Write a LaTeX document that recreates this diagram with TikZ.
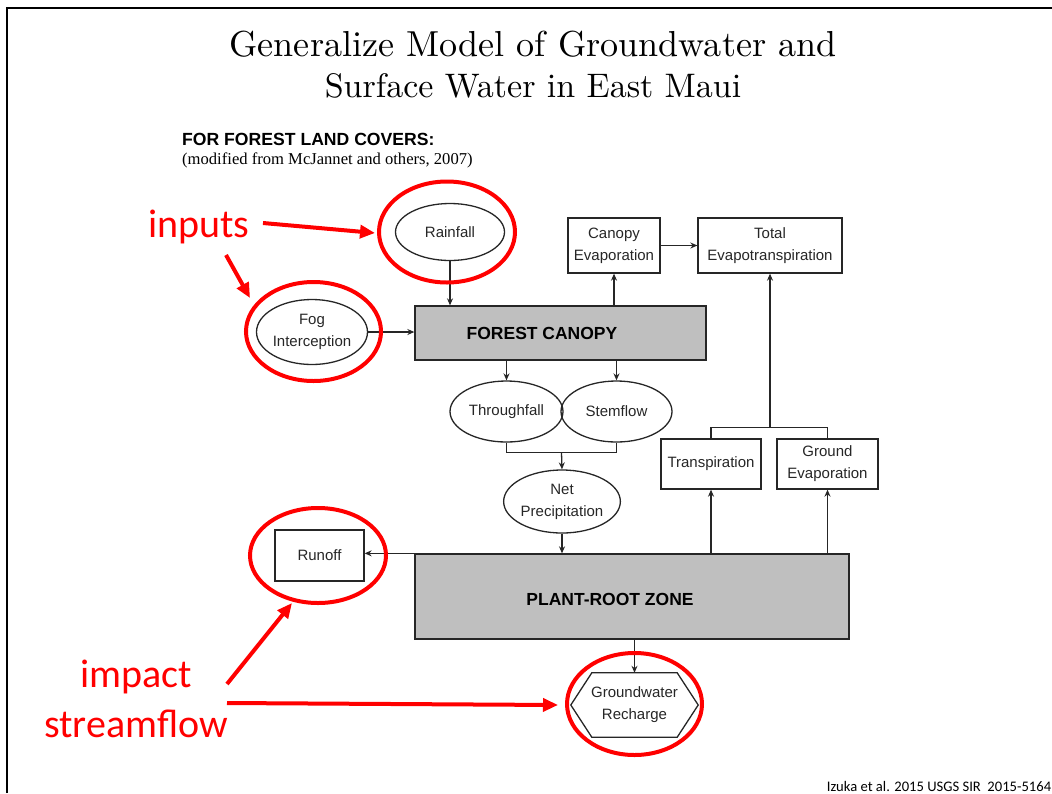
\documentclass[tikz,border=0pt]{standalone}
\usepackage{fontspec}
\setsansfont{Liberation Sans}
\newfontfamily\calfont{Carlito}
\newfontfamily\timesfont{Liberation Serif}
\newfontfamily\titlefont{lmroman10-regular}[Extension=.otf]
\usetikzlibrary{shapes.geometric,arrows.meta,calc}
\newcommand\dfont{\sffamily\fontsize{15}{22}\selectfont}
\tikzset{
  blk/.style={line width=1.3pt, draw=black!85},
  arr/.style={blk, -{Stealth[length=7pt,width=6pt]}},
  ell/.style={draw=black!85, ellipse, line width=1.3pt, inner sep=0pt, align=center, font=\dfont, text=black!85},
  bx/.style={draw=black!85, rectangle, line width=1.3pt, inner sep=0pt, align=center, font=\dfont, text=black!85},
  zone/.style={draw=black!85, rectangle, fill=gray!50, line width=1.3pt, inner sep=0pt},
  ztext/.style={font=\sffamily\bfseries\fontsize{17.5}{20}\selectfont, inner sep=0pt},
  rcirc/.style={draw=red, ellipse, line width=4pt, inner sep=0pt},
  rarr/.style={draw=red, line width=4pt, -{Triangle[length=15pt,width=13pt]}},
  rtext/.style={text=red, font=\calfont\fontsize{40}{48}\selectfont, inner sep=0pt},
  ttl/.style={anchor=base, inner sep=0pt, font=\titlefont\fontsize{34}{41}\selectfont},
}
\begin{document}
\begin{tikzpicture}[x=1pt,y=-1pt]
\useasboundingbox (0,0) rectangle (1052,793);
% slide frame
\draw[line width=2.5pt] (7,793) -- (7,8) -- (1052,8);
% title
\node[ttl] (title1) at (533,56) {\resizebox{607pt}{!}{\vphantom{Gy}Generalize Model of Groundwater and}};
\node[ttl] (title2) at (533,97) {\scalebox{1.0}{Surface Water in East Maui}};
% header
\node[anchor=base west, inner sep=0pt, font=\sffamily\bfseries\fontsize{17.6}{20}\selectfont] (hdr) at (182,145) {FOR FOREST LAND COVERS:};
\node[anchor=base west, inner sep=0pt, font=\timesfont\fontsize{16.6}{18}\selectfont] (sub) at (182,164) {(modified from McJannet and others, 2007)};
% diagram nodes
\node[ell, minimum width=109, minimum height=57] (rain) at (450,232) {Rainfall};
\node[ell, minimum width=111, minimum height=65] (fog) at (312,332) {Fog\\Interception};
\node[zone, minimum width=291, minimum height=54] (canopy) at (560.5,333) {};
\node[ztext] (canopyt) at (542,333) {FOREST CANOPY};
\node[bx, minimum width=92, minimum height=55] (ce) at (614,245.5) {Canopy\\Evaporation};
\node[bx, minimum width=144, minimum height=55] (te) at (770,245.5) {Total\\Evapotranspiration};
\node[ell, minimum width=113, minimum height=61] (thr) at (506.5,411.5) {Throughfall};
\node[ell, minimum width=111, minimum height=61] (stem) at (616.5,411.5) {Stemflow};
\node[ell, minimum width=110, minimum height=63] (netp) at (562,501.5) {Net\\Precipitation};
\node[bx, minimum width=100, minimum height=50] (trans) at (711,464) {Transpiration};
\node[bx, minimum width=101, minimum height=50] (gev) at (827.5,464) {Ground\\Evaporation};
\node[bx, minimum width=89, minimum height=51] (runoff) at (319.5,555.5) {Runoff};
\node[zone, minimum width=434, minimum height=85] (prz) at (632,596.5) {};
\node[ztext] (przt) at (610,599) {PLANT-ROOT ZONE};
\node[inner sep=0pt, minimum width=127, minimum height=64, align=center, font=\dfont, text=black!85] (gw) at (634.5,705) {Groundwater\\Recharge};
\draw[blk] (gw.west) -- ($(gw.north west)+(21,0)$) -- ($(gw.north east)+(-21,0)$) -- (gw.east) -- ($(gw.south east)+(-21,0)$) -- ($(gw.south west)+(21,0)$) -- cycle;
% connectors
\draw[arr] (rain.south) -- (rain.south |- canopy.north);
\draw[arr] (fog.east) -- (fog.east -| canopy.west);
\draw[arr] (ce.south |- canopy.north) -- (ce.south);
\draw[arr] (ce.east) -- (te.west);
\draw[arr] (thr.north |- canopy.south) -- (thr.north);
\draw[arr] (stem.north |- canopy.south) -- (stem.north);
\coordinate (j1) at ($(thr.south)!0.5!(stem.south)+(0,10)$);
\draw[blk] (thr.south) -- (thr.south |- j1) -- (stem.south |- j1) -- (stem.south);
\draw[arr] (j1) -- (netp.north);
\draw[arr] (netp.south) -- (netp.south |- prz.north);
\draw[arr] (trans.south |- prz.north) -- (trans.south);
\draw[arr] (gev.south |- prz.north) -- (gev.south);
\coordinate (j2) at ($(te.south)+(0,154)$);
\draw[blk] (trans.north) -- (trans.north |- j2) -- (gev.north |- j2) -- (gev.north);
\draw[arr] (j2) -- (te.south);
\draw[arr] (prz.north west) -- (prz.north west -| runoff.east);
\draw[arr] (gw.north |- prz.south) -- (gw.north);
% red annotations
\node[rcirc, minimum width=136, minimum height=101] (rc1) at (447,232) {};
\node[rcirc, minimum width=135, minimum height=99] (rc2) at (313.5,331.5) {};
\node[rcirc, minimum width=136, minimum height=95] (rc3) at (318,555.5) {};
\node[rcirc, minimum width=135, minimum height=102] (rc4) at (634.5,704) {};
\node[rtext, anchor=base] (inputs) at (199,237) {inputs};
\node[rtext, anchor=base] (impact) at (136.5,687) {impact};
\node[rtext, anchor=base] (streamflow) at (136,737) {streamflow};
\coordinate (a1s) at (263,223); \coordinate (a1e) at (375,233);
\coordinate (a2s) at (226,255); \coordinate (a2e) at (250,298);
\coordinate (a3s) at (227,684); \coordinate (a3e) at (292,603);
\coordinate (a4s) at (227,703); \coordinate (a4e) at (558,705);
\draw[rarr] (a1s) -- (a1e);
\draw[rarr] (a2s) -- (a2e);
\draw[rarr] (a3s) -- (a3e);
\draw[rarr] (a4s) -- (a4e);
% credit
\node[anchor=base, inner sep=0pt, font=\calfont\fontsize{14.6}{16}\selectfont] (credit) at (939,791) {Izuka et al. 2015 USGS SIR\ \ 2015-5164};
\end{tikzpicture}
\end{document}
